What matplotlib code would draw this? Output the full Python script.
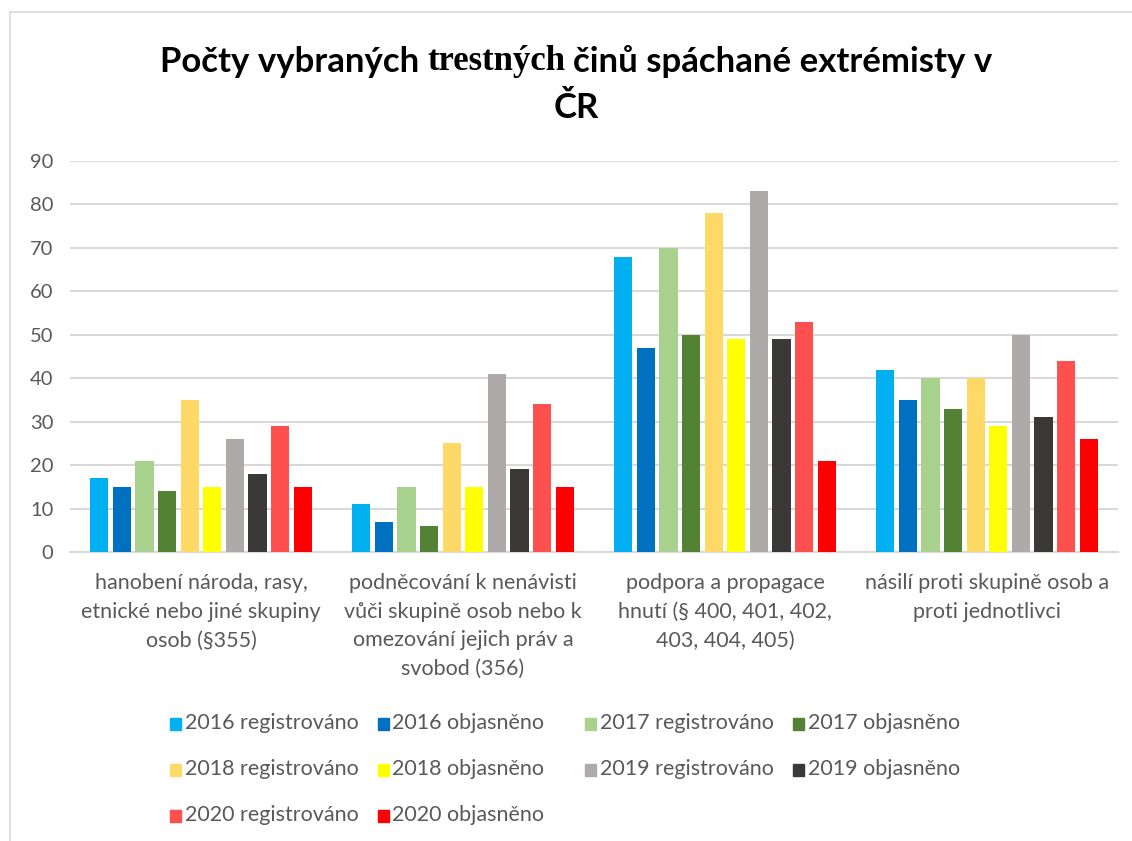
import numpy as np
import matplotlib.pyplot as plt
from matplotlib.patches import Rectangle

# kategorie trestných činů
categories = [
    "hanobení národa, rasy,\netnické nebo jiné skupiny\nosob (§355)",
    "podněcování k nenávisti\nvůči skupině osob nebo k\nomezování jejich práv a\nsvobod (356)",
    "podpora a propagace\nhnutí (§ 400, 401, 402,\n403, 404, 405)",
    "násilí proti skupině osob a\nproti jednotlivci",
]

series_names = [
    "2016 registrováno", "2016 objasněno",
    "2017 registrováno", "2017 objasněno",
    "2018 registrováno", "2018 objasněno",
    "2019 registrováno", "2019 objasněno",
    "2020 registrováno", "2020 objasněno",
]

reg_2016 = [17, 11, 68, 42]
obj_2016 = [15, 7, 47, 35]
reg_2017 = [21, 15, 70, 40]
obj_2017 = [14, 6, 50, 33]
reg_2018 = [35, 25, 78, 40]
obj_2018 = [15, 15, 49, 29]
reg_2019 = [26, 41, 83, 50]
obj_2019 = [18, 19, 49, 31]
reg_2020 = [29, 34, 53, 44]
obj_2020 = [15, 15, 21, 26]

series_values = [reg_2016, obj_2016, reg_2017, obj_2017, reg_2018,
                 obj_2018, reg_2019, obj_2019, reg_2020, obj_2020]

colors = ['#00b0f0', '#0070c0', '#a9d18e', '#548235', '#ffd966',
          '#ffff00', '#aeaaaa', '#3b3838', '#ff5050', '#ff0000']

yticks = [0, 10, 20, 30, 40, 50, 60, 70, 80, 90]

W, H = 1132, 841
fig = plt.figure(figsize=(W / 100, H / 100), dpi=100)
plt.rcParams['font.family'] = ['Lato', 'DejaVu Sans']
grey = '#595959'

# rámeček grafu
fig.add_artist(plt.Line2D([10 / W, 10 / W], [0, 1 - 12 / H], transform=fig.transFigure, color='#d9d9d9', lw=1.2))
fig.add_artist(plt.Line2D([10 / W, 1], [1 - 12 / H, 1 - 12 / H], transform=fig.transFigure, color='#d9d9d9', lw=1.2))

ax = fig.add_axes([70 / W, 1 - 552 / H, 1048 / W, 391 / H])

x = np.arange(len(categories))
slot = 0.0863
bar_w = 0.069
n = len(series_values)
for i, (vals, col, name) in enumerate(zip(series_values, colors, series_names)):
    ax.bar(x + (i - (n - 1) / 2) * slot, vals, width=bar_w, color=col, label=name, zorder=3)

ax.set_xlim(-0.5, 3.5)
ax.set_ylim(0, 90)
ax.set_yticks(yticks)
ax.yaxis.grid(True, color='#d9d9d9', lw=1.5, zorder=0)
ax.set_axisbelow(True)
for s in ['top', 'right', 'left']:
    ax.spines[s].set_visible(False)
ax.spines['bottom'].set_color('#d9d9d9')
ax.spines['bottom'].set_linewidth(1.5)
ax.tick_params(axis='y', length=0, labelsize=14.5, labelcolor=grey, pad=12)
ax.tick_params(axis='x', length=0, labelsize=15.5, labelcolor=grey, pad=15)
ax.set_xticks(x)
ax.set_xticklabels(categories, linespacing=1.55)

# legenda - ručně, Excel má stejně široké sloupce
for i, (name, col) in enumerate(zip(series_names, colors)):
    row, c = divmod(i, 4)
    lx = 170 + c * 207.5
    ly = 723 + row * 46
    fig.add_artist(Rectangle((lx / W, 1 - (ly + 7) / H), 11 / W, 12 / H,
                             transform=fig.transFigure, color=col))
    fig.text((lx + 15) / W, 1 - ly / H, name, fontsize=15.5, color=grey,
             ha='left', va='center')

# titulek - prostřední slovo v patkovém písmu
parts = [("Počty vybraných", ['Lato', 'DejaVu Sans']),
         ("trestných", ['Liberation Serif']),
         ("činů spáchané extrémisty v", ['Lato', 'DejaVu Sans'])]
title_y = 1 - 62 / H
texts = [fig.text(0, title_y, p, family=f, fontsize=25, fontweight='bold', va='center', ha='left')
         for p, f in parts]
fig.canvas.draw()
r = fig.canvas.get_renderer()
widths = [t.get_window_extent(r).width for t in texts]
gap = 8
total = sum(widths) + gap * (len(widths) - 1)
cur = 576 - total / 2
for t, w in zip(texts, widths):
    t.set_x(cur / W)
    cur += w + gap
fig.text(576 / W, 1 - 108 / H, "ČR", fontsize=25, fontweight='bold', ha='center', va='center')

fig.savefig('out.png', dpi=100)
